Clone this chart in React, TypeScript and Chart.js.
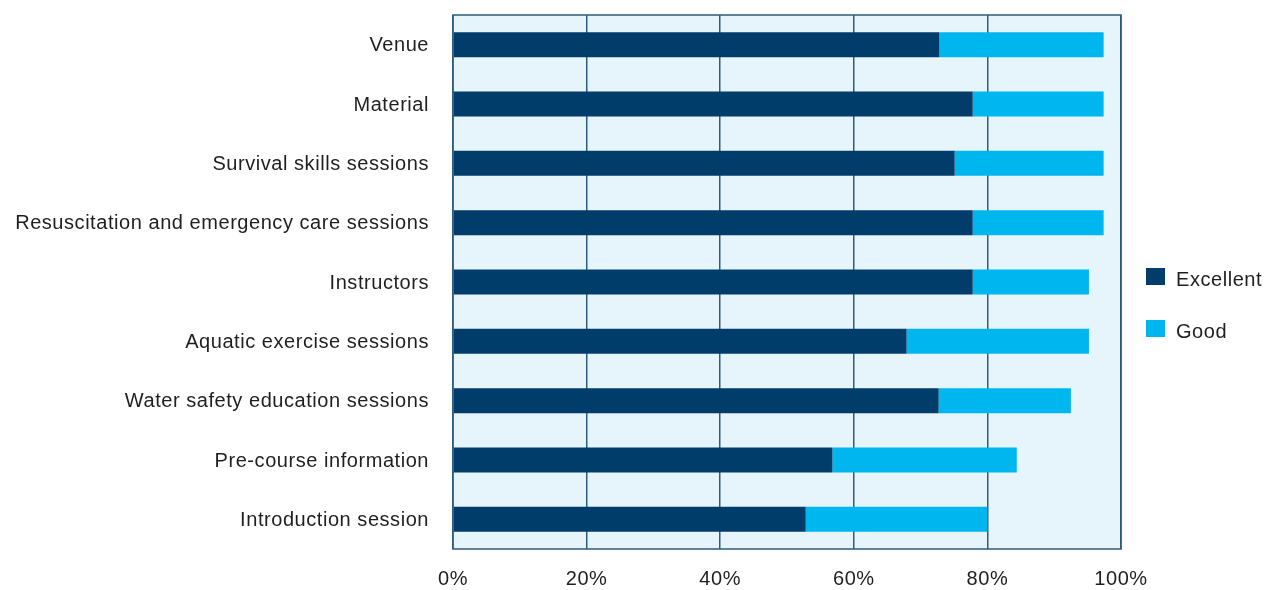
import React, { useEffect, useRef } from "react";
import { Chart, registerables } from "chart.js";

Chart.register(...registerables);

const categories = [
  "Venue",
  "Material",
  "Survival skills sessions",
  "Resuscitation and emergency care sessions",
  "Instructors",
  "Aquatic exercise sessions",
  "Water safety education sessions",
  "Pre-course information",
  "Introduction session",
];
const excellent = [72.8, 77.8, 75.1, 77.8, 77.8, 67.9, 72.7, 56.8, 52.8];
const good = [24.6, 19.6, 22.3, 19.6, 17.4, 27.3, 19.8, 27.6, 27.2];
const seriesNames = ["Excellent", "Good"];
const seriesColors = ["#003D6B", "#00B6EF"];
const xTickStep = 20;

const FONT = "'Liberation Sans', Arial, Helvetica, sans-serif";

export default function App() {
  const ref = useRef<HTMLCanvasElement>(null);

  useEffect(() => {
    if (!ref.current) return;

    const plotDecor = {
      id: "plotDecor",
      beforeDraw(chart: any) {
        const { ctx, chartArea: a } = chart;
        ctx.save();
        ctx.fillStyle = "#E6F4FB";
        ctx.fillRect(a.left, a.top, a.width, a.height);
        ctx.restore();
        (ctx as any).letterSpacing = "0.55px";
      },
      afterDraw(chart: any) {
        const { ctx, chartArea: a } = chart;
        ctx.save();
        ctx.strokeStyle = "#2E5C7E";
        ctx.lineWidth = 1.5;
        ctx.strokeRect(a.left, a.top, a.width, a.height);
        // legend
        ctx.font = `20px ${FONT}`;
        ctx.textBaseline = "middle";
        ctx.textAlign = "left";
        chart.data.datasets.forEach((ds: any, i: number) => {
          const y = 268 + i * 52;
          ctx.fillStyle = ds.backgroundColor;
          ctx.fillRect(1146, y, 19, 17);
          ctx.fillStyle = "#1f1f1f";
          ctx.fillText(ds.label, 1176, y + 12);
        });
        ctx.restore();
      },
    };

    const chart = new Chart(ref.current, {
      type: "bar",
      data: {
        labels: categories,
        datasets: [
          {
            label: seriesNames[0],
            data: excellent,
            backgroundColor: seriesColors[0],
            borderWidth: 0,
            barPercentage: 0.42,
            categoryPercentage: 1,
          },
          {
            label: seriesNames[1],
            data: good,
            backgroundColor: seriesColors[1],
            borderWidth: 0,
            barPercentage: 0.42,
            categoryPercentage: 1,
          },
        ],
      },
      options: {
        indexAxis: "y",
        responsive: false,
        animation: false,
        devicePixelRatio: 1,
        layout: { padding: { top: 15, right: 154, left: 0, bottom: 0 } },
        plugins: {
          legend: { display: false },
          tooltip: { enabled: false },
        },
        scales: {
          x: {
            stacked: true,
            min: 0,
            max: 100,
            ticks: {
              stepSize: xTickStep,
              callback: (v: any) => `${v}%`,
              font: { family: FONT, size: 20 },
              color: "#1f1f1f",
              padding: 18,
              maxRotation: 0,
            },
            grid: {
              color: "#2E5C7E",
              lineWidth: 1.5,
              drawTicks: false,
            },
            border: { display: false },
            afterFit: (scale: any) => {
              scale.height = 41;
            },
          },
          y: {
            stacked: true,
            ticks: {
              font: { family: FONT, size: 20 },
              color: "#1f1f1f",
              padding: 24,
              labelOffset: 1,
            },
            grid: { display: false, drawTicks: false },
            border: { display: false },
            afterFit: (scale: any) => {
              scale.width = 453;
              scale.paddingTop = 0;
              scale.paddingBottom = 0;
            },
          },
        },
      },
      plugins: [plotDecor],
    });

    return () => chart.destroy();
  }, []);

  return (
    <div style={{ position: "absolute", left: 0, top: 0, width: 1275, height: 590 }}>
      <canvas ref={ref} width={1275} height={590} style={{ width: 1275, height: 590 }} />
    </div>
  );
}
